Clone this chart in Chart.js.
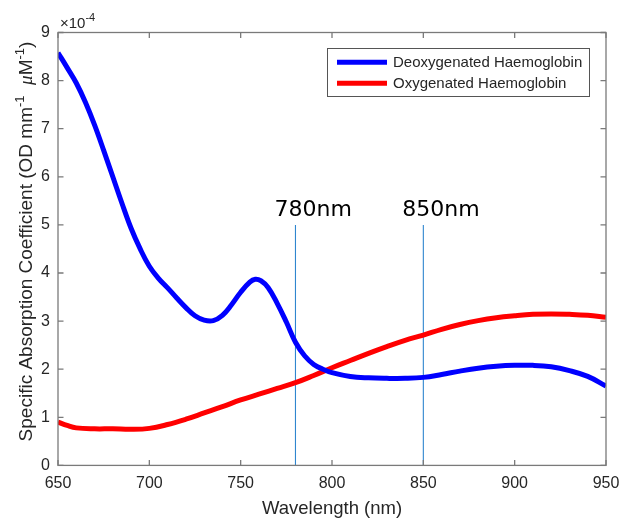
<!DOCTYPE html>
<html>
<head>
<meta charset="utf-8">
<script src="https://cdn.jsdelivr.net/npm/chart.js@4.4.1/dist/chart.umd.min.js"></script>
<style>
html,body{margin:0;padding:0;background:#fff;}
#c{display:block;}
</style>
</head>
<body>
<canvas id="c" width="620" height="519"></canvas>
<script>
// ---- data ----
const deoxyWavelengths = [650,655,660,665,670,675,680,685,690,695,700,705,710,715,720,725,730,735,740,745,750,755,758,761,765,770,775,780,785,790,795,800,810,820,830,840,850,860,870,880,890,900,910,920,930,940,950];
const deoxyValues      = [8.58,8.27,7.95,7.55,7.08,6.55,6.00,5.45,4.93,4.50,4.14,3.89,3.69,3.48,3.28,3.11,3.02,3.01,3.12,3.34,3.60,3.81,3.87,3.84,3.70,3.37,2.98,2.56,2.28,2.10,2.00,1.93,1.85,1.82,1.81,1.81,1.83,1.89,1.96,2.02,2.06,2.08,2.08,2.05,1.97,1.85,1.65];
const oxyWavelengths   = [650,655,660,670,680,690,700,710,720,730,740,750,760,770,780,790,800,810,820,830,840,850,860,870,880,890,900,910,920,930,940,950];
const oxyValues        = [0.90,0.83,0.78,0.76,0.76,0.75,0.77,0.85,0.96,1.09,1.22,1.36,1.48,1.60,1.72,1.87,2.03,2.18,2.33,2.47,2.60,2.71,2.83,2.93,3.01,3.07,3.11,3.14,3.15,3.14,3.12,3.08];
const seriesNames      = ['Deoxygenated Haemoglobin','Oxygenated Haemoglobin'];
const markerWavelengths = [780, 850];
const markerHeight      = 5;
const markerLabels      = ['780nm','850nm'];
const xTickValues = [650,700,750,800,850,900,950];
const yTickValues = [0,1,2,3,4,5,6,7,8,9];
const xTitle = 'Wavelength (nm)';
const yTitleParts = [
  {t:'Specific Absorption Coefficient (OD mm'},
  {t:'-1', sup:true},
  {t:'  '},
  {t:'\u03BC', italic:true},
  {t:'M'},
  {t:'-1', sup:true},
  {t:')'}
];
const exponentBase = '\u00D710';
const exponentPower = '-4';

// ---- styles ----
const FONT = "'Liberation Sans', Arial, sans-serif";
const TXT = '#262626';
const AXIS = '#7a7a7a';

const datasets = [
  {label: seriesNames[0], data: deoxyWavelengths.map((x,i)=>({x, y: deoxyValues[i]})),
   borderColor:'#0000FF', borderWidth:5, pointRadius:0, tension:0.4, fill:false},
  {label: seriesNames[1], data: oxyWavelengths.map((x,i)=>({x, y: oxyValues[i]})),
   borderColor:'#FF0000', borderWidth:5, pointRadius:0, tension:0.4, fill:false}
];
markerWavelengths.forEach(w => {
  datasets.push({label:'marker'+w, data:[{x:w,y:0},{x:w,y:markerHeight}],
    borderColor:'#2f86cf', borderWidth:1.1, pointRadius:0, fill:false, tension:0});
});

const customPlugin = {
  id:'custom',
  afterDraw(chart){
    const ctx = chart.ctx;
    const a = chart.chartArea;
    const xs = chart.scales.x, ys = chart.scales.y;
    ctx.save();
    // box
    ctx.strokeStyle = AXIS; ctx.lineWidth = 1.3;
    ctx.strokeRect(a.left, a.top, a.right - a.left, a.bottom - a.top);
    // inward ticks
    const tl = 5.5;
    ctx.beginPath();
    xTickValues.forEach(v => {
      const px = xs.getPixelForValue(v);
      ctx.moveTo(px, a.bottom); ctx.lineTo(px, a.bottom - tl);
      ctx.moveTo(px, a.top); ctx.lineTo(px, a.top + tl);
    });
    yTickValues.forEach(v => {
      const py = ys.getPixelForValue(v);
      ctx.moveTo(a.left, py); ctx.lineTo(a.left + tl, py);
      ctx.moveTo(a.right, py); ctx.lineTo(a.right - tl, py);
    });
    ctx.stroke();

    // marker labels
    ctx.fillStyle = '#000';
    ctx.font = "22px 'DejaVu Sans', sans-serif";
    ctx.textAlign = 'left'; ctx.textBaseline = 'alphabetic';
    markerWavelengths.forEach((w,i) => {
      const px = xs.getPixelForValue(w);
      const py = ys.getPixelForValue(markerHeight);
      ctx.fillText(markerLabels[i], px - 21, py - 9);
    });

    // exponent
    ctx.fillStyle = TXT;
    ctx.font = "15px " + FONT;
    ctx.textAlign = 'left'; ctx.textBaseline = 'alphabetic';
    ctx.fillText(exponentBase, a.left + 2, a.top - 5);
    const wb = ctx.measureText(exponentBase).width;
    ctx.font = "11px " + FONT;
    ctx.fillText(exponentPower, a.left + 2 + wb, a.top - 12);

    // x title
    ctx.font = "18.5px " + FONT;
    ctx.textAlign = 'center'; ctx.textBaseline = 'middle';
    ctx.fillText(xTitle, (a.left + a.right)/2, 509);

    // y title (rotated with superscripts)
    const baseSize = 19, supSize = 13;
    const fontFor = p => p.sup ? supSize + "px " + FONT :
                    (p.italic ? "italic " + baseSize + "px 'Liberation Serif', serif" : baseSize + "px " + FONT);
    let total = 0;
    yTitleParts.forEach(p => { ctx.font = fontFor(p); p.w = ctx.measureText(p.t).width; total += p.w; });
    ctx.translate(25, 241.5);
    ctx.rotate(-Math.PI/2);
    ctx.textAlign = 'left'; ctx.textBaseline = 'alphabetic';
    let cx = -total/2;
    const base = 7;
    yTitleParts.forEach(p => {
      ctx.font = fontFor(p);
      ctx.fillText(p.t, cx, p.sup ? base - 8 : base);
      cx += p.w;
    });
    ctx.restore();

    // legend
    ctx.save();
    const lx = 327, ly = 48, lw = 262, lh = 48;
    ctx.fillStyle = '#fff';
    ctx.fillRect(lx, ly, lw, lh);
    ctx.strokeStyle = '#555'; ctx.lineWidth = 1;
    ctx.strokeRect(lx + 0.5, ly + 0.5, lw, lh);
    const colors = ['#0000FF', '#FF0000'];
    const rows = [62.3, 83.3];
    ctx.font = "15px " + FONT;
    ctx.textAlign = 'left'; ctx.textBaseline = 'middle';
    seriesNames.forEach((n,i) => {
      ctx.strokeStyle = colors[i]; ctx.lineWidth = 5;
      ctx.beginPath(); ctx.moveTo(337, rows[i]); ctx.lineTo(387, rows[i]); ctx.stroke();
      ctx.fillStyle = TXT;
      ctx.fillText(n, 393, rows[i] + 1);
    });
    ctx.restore();
  }
};

new Chart(document.getElementById('c'), {
  type:'line',
  data:{datasets},
  options:{
    responsive:false, animation:false, devicePixelRatio:1,
    layout:{padding:{top:32.5, right:14, left:0, bottom:0}},
    plugins:{legend:{display:false}, tooltip:{enabled:false}},
    scales:{
      x:{type:'linear', min:650, max:950,
         afterBuildTicks: s => { s.ticks = xTickValues.map(v => ({value:v})); },
         afterFit: s => { s.height = 519 - 465.4; s.paddingLeft = 0; s.paddingRight = 0; },
         grid:{display:false, drawTicks:false}, border:{display:false},
         ticks:{padding:9, color:TXT, font:{family:FONT, size:16}, maxRotation:0, autoSkip:false}},
      y:{type:'linear', min:0, max:9,
         afterBuildTicks: s => { s.ticks = yTickValues.map(v => ({value:v})); },
         afterFit: s => { s.width = 58; s.paddingTop = 0; s.paddingBottom = 0; },
         grid:{display:false, drawTicks:false}, border:{display:false},
         ticks:{padding:8, color:TXT, font:{family:FONT, size:16}, autoSkip:false}}
    }
  },
  plugins:[customPlugin]
});
</script>
</body>
</html>
